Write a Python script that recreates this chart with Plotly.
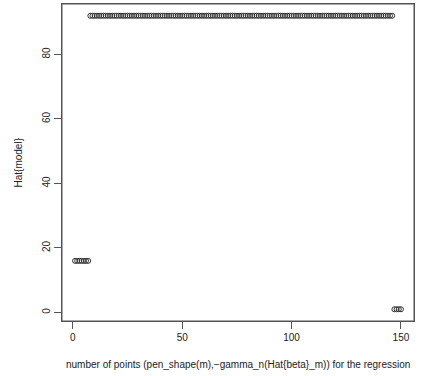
import plotly.graph_objects as go

x_values = list(range(1, 151))
y_values = [
    16, 16, 16, 16, 16, 16, 16,
    92, 92, 92, 92, 92, 92, 92, 92, 92, 92, 92, 92, 92, 92, 92, 92, 92, 92, 92, 92,
    92, 92, 92, 92, 92, 92, 92, 92, 92, 92, 92, 92, 92, 92, 92, 92, 92, 92, 92, 92,
    92, 92, 92, 92, 92, 92, 92, 92, 92, 92, 92, 92, 92, 92, 92, 92, 92, 92, 92, 92,
    92, 92, 92, 92, 92, 92, 92, 92, 92, 92, 92, 92, 92, 92, 92, 92, 92, 92, 92, 92,
    92, 92, 92, 92, 92, 92, 92, 92, 92, 92, 92, 92, 92, 92, 92, 92, 92, 92, 92, 92,
    92, 92, 92, 92, 92, 92, 92, 92, 92, 92, 92, 92, 92, 92, 92, 92, 92, 92, 92, 92,
    92, 92, 92, 92, 92, 92, 92, 92, 92, 92, 92, 92, 92, 92, 92, 92, 92, 92, 92,
    1, 1, 1, 1,
]
x_ticks = [0, 50, 100, 150]
y_ticks = [0, 20, 40, 60, 80]
x_title = "number of points (pen_shape(m),\u2212gamma_n(Hat{beta}_m)) for the regression"
y_title = "Hat{model}"

FONT = "Liberation Sans, Arial, Helvetica, sans-serif"
TXT = "#222222"
LINE = "#555555"

fig = go.Figure()
fig.add_trace(go.Scatter(
    x=x_values, y=y_values, mode="markers",
    marker=dict(symbol="circle-open", size=5, color="#333333", line=dict(width=1, color="#333333")),
    showlegend=False, hoverinfo="x+y",
))

fig.update_layout(
    width=425, height=376,
    margin=dict(l=62, r=11, t=4, b=55),
    paper_bgcolor="white", plot_bgcolor="white",
    font=dict(family=FONT, size=10, color=TXT),
    xaxis=dict(
        range=[-4.96, 155.96], tickvals=x_ticks, ticktext=[str(v) for v in x_ticks],
        showgrid=False, zeroline=False, showline=True, mirror=True,
        linecolor=LINE, linewidth=1, ticks="outside", ticklen=7, tickcolor=LINE,
        tickfont=dict(size=10, color=TXT),
    ),
    yaxis=dict(
        range=[-2.64, 95.64], tickvals=y_ticks, ticktext=[str(v) for v in y_ticks],
        showgrid=False, zeroline=False, showline=True, mirror=True,
        linecolor=LINE, linewidth=1, ticks="outside", ticklen=7, tickcolor=LINE,
        tickangle=-90, tickfont=dict(size=10, color=TXT),
    ),
    shapes=[
        dict(type="rect", xref="paper", yref="paper", x0=0, y0=0, x1=1, y1=1,
             line=dict(color=LINE, width=1), fillcolor="rgba(0,0,0,0)", layer="above"),
    ],
    annotations=[
        dict(text=x_title, xref="paper", yref="paper", x=0.5, y=0, yshift=-43,
             showarrow=False, xanchor="center", yanchor="middle",
             font=dict(size=10, color=TXT)),
        dict(text=y_title, xref="paper", yref="paper", x=0, y=0.5, xshift=-44,
             showarrow=False, xanchor="center", yanchor="middle", textangle=-90,
             font=dict(size=10, color=TXT)),
    ],
)

fig.write_html("out.html", config={"displayModeBar": False},
               post_script="document.body.style.margin='0';")
